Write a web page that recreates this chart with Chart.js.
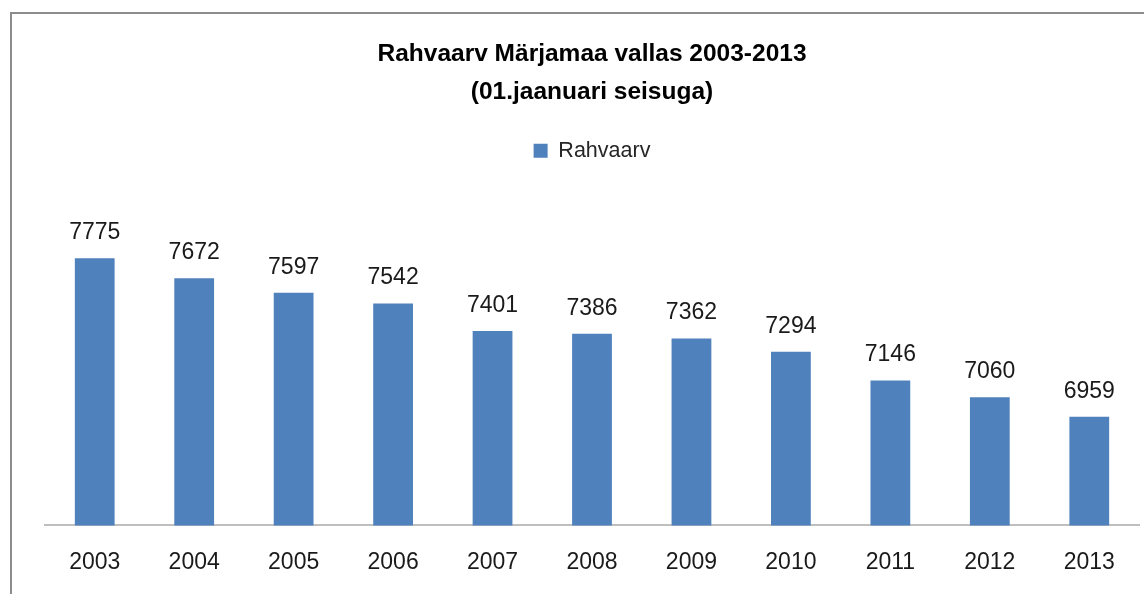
<!DOCTYPE html>
<html>
<head>
<meta charset="utf-8">
<script src="https://cdn.jsdelivr.net/npm/chart.js@4"></script>
<style>
  html, body { margin: 0; padding: 0; background: #fff; overflow: hidden; }
  #frame {
    position: absolute; left: 10px; top: 12px; width: 1200px; height: 700px;
    border: 2px solid #8c8c8c; box-sizing: border-box;
  }
  #wrap { position: absolute; left: 0; top: 0; width: 1144px; height: 594px; }
</style>
</head>
<body>
<div id="frame"></div>
<div id="wrap"><canvas id="chart"></canvas></div>
<script>
const years = ['2003', '2004', '2005', '2006', '2007', '2008', '2009', '2010', '2011', '2012', '2013'];
const population = [7775, 7672, 7597, 7542, 7401, 7386, 7362, 7294, 7146, 7060, 6959];
const titleLines = ['Rahvaarv Märjamaa vallas 2003-2013', '(01.jaanuari seisuga)'];
const seriesName = 'Rahvaarv';

const fontFamily = '"Liberation Sans", Arial, sans-serif';

// values above the bars
const barLabels = {
  id: 'barLabels',
  afterDatasetsDraw(chart) {
    const ctx = chart.ctx;
    const meta = chart.getDatasetMeta(0);
    ctx.save();
    ctx.font = '23px ' + fontFamily;
    ctx.fillStyle = '#1a1a1a';
    ctx.textAlign = 'center';
    ctx.textBaseline = 'alphabetic';
    meta.data.forEach((bar, i) => {
      ctx.fillText(String(population[i]), bar.x, bar.y - 19);
    });
    ctx.restore();
  }
};

new Chart(document.getElementById('chart'), {
  type: 'bar',
  data: {
    labels: years,
    datasets: [{
      label: seriesName,
      data: population,
      backgroundColor: '#4f81bd',
      barPercentage: 0.4,
      categoryPercentage: 1
    }]
  },
  options: {
    responsive: true,
    maintainAspectRatio: false,
    animation: false,
    layout: { padding: { left: 45, right: 5, top: 0, bottom: 3 } },
    plugins: {
      title: {
        display: true,
        text: titleLines,
        color: '#000',
        font: { family: fontFamily, size: 24.5, weight: 'bold', lineHeight: 38 / 24.5 },
        padding: { top: 35, bottom: 19 }
      },
      subtitle: {
        display: true,
        text: ' ',
        weight: 500,
        color: 'rgba(0,0,0,0)',
        font: { size: 10, lineHeight: 1 },
        padding: { top: 0, bottom: 33 }
      },
      legend: {
        display: true,
        labels: {
          boxWidth: 14,
          boxHeight: 14,
          padding: 10,
          color: '#262626',
          font: { family: fontFamily, size: 21.5 }
        }
      },
      tooltip: { enabled: false }
    },
    scales: {
      x: {
        grid: { display: false },
        border: { display: true, color: '#bfbfbf', width: 2 },
        ticks: { color: '#1a1a1a', padding: 15, font: { family: fontFamily, size: 23 } }
      },
      y: {
        display: false,
        min: 6400,
        max: 8000
      }
    }
  },
  plugins: [barLabels]
});
</script>
</body>
</html>
